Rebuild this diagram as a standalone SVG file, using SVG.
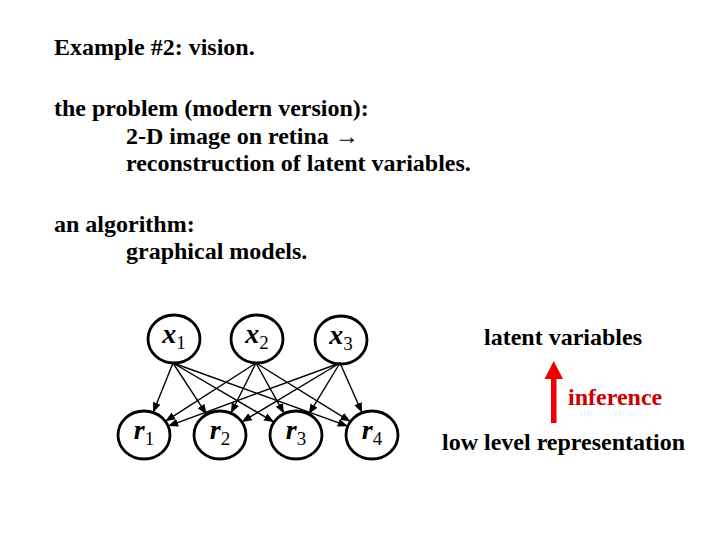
<svg xmlns="http://www.w3.org/2000/svg" width="720" height="540" viewBox="0 0 720 540">
<style>
.t{font-family:"Liberation Serif","Times New Roman",serif;font-weight:bold;font-size:24px;fill:#000}
.red{fill:#cc0000}
.node{fill:none;stroke:#000;stroke-width:2.8}
.lbl{font-family:"Liberation Serif","Times New Roman",serif;font-size:28px;fill:#000;text-anchor:middle}
.v{font-style:italic;font-weight:bold}
.sub{font-size:19px}
.edge{stroke:#000;stroke-width:1.4;fill:none;marker-end:url(#ah)}
</style>
<defs>
<marker id="ah" markerUnits="userSpaceOnUse" markerWidth="11" markerHeight="9" refX="10" refY="4.5" orient="auto">
<path d="M0,0.5 L10,4.5 L0,8.5 z" fill="#000"/>
</marker>
</defs>
<rect width="720" height="540" fill="#fff"/>
<g id="text">
<text class="t" x="54" y="55">Example #2: vision.</text>
<text class="t" x="54" y="116">the problem (modern version):</text>
<text class="t" x="126" y="144">2-D image on retina →</text>
<text class="t" x="126" y="171">reconstruction of latent variables.</text>
<text class="t" x="54" y="232">an algorithm:</text>
<text class="t" x="126" y="259">graphical models.</text>
<text class="t" x="484" y="345">latent variables</text>
<text class="t red" x="568" y="405">inference</text>
<text class="t" x="442" y="450">low level representation</text>
</g>
<g id="inference-arrow">
<rect x="551" y="378" width="5.5" height="45" fill="#ee0000"/>
<polygon points="553.7,361 544.5,379 563,379" fill="#ee0000"/>
</g>
<g id="connectors">
<line class="edge" x1="173" y1="363" x2="153.1" y2="412.5"/>
<line class="edge" x1="173" y1="363" x2="206.6" y2="414.4"/>
<line class="edge" x1="173" y1="363" x2="274.0" y2="422.1"/>
<line class="edge" x1="173" y1="363" x2="347.8" y2="426.2"/>
<line class="edge" x1="256" y1="363" x2="165.3" y2="421.3"/>
<line class="edge" x1="256" y1="363" x2="230.9" y2="413.2"/>
<line class="edge" x1="256" y1="363" x2="284.1" y2="413.6"/>
<line class="edge" x1="256" y1="363" x2="350.4" y2="421.6"/>
<line class="edge" x1="340" y1="363" x2="168.2" y2="426.1"/>
<line class="edge" x1="340" y1="363" x2="241.8" y2="421.9"/>
<line class="edge" x1="340" y1="363" x2="308.8" y2="414.1"/>
<line class="edge" x1="340" y1="363" x2="362.1" y2="412.8"/>
</g>
<g id="x1"><ellipse class="node" cx="174" cy="339" rx="26" ry="24"/><text class="lbl" x="174" y="343"><tspan class="v">x</tspan><tspan class="sub" dy="6">1</tspan></text></g>
<g id="x2"><ellipse class="node" cx="257" cy="339" rx="26" ry="24"/><text class="lbl" x="257" y="343"><tspan class="v">x</tspan><tspan class="sub" dy="6">2</tspan></text></g>
<g id="x3"><ellipse class="node" cx="341" cy="340" rx="26" ry="24"/><text class="lbl" x="341" y="344"><tspan class="v">x</tspan><tspan class="sub" dy="6">3</tspan></text></g>
<g id="r1"><ellipse class="node" cx="144" cy="435" rx="26" ry="24"/><text class="lbl" x="144" y="439"><tspan class="v">r</tspan><tspan class="sub" dy="6">1</tspan></text></g>
<g id="r2"><ellipse class="node" cx="220" cy="435" rx="26" ry="24"/><text class="lbl" x="220" y="439"><tspan class="v">r</tspan><tspan class="sub" dy="6">2</tspan></text></g>
<g id="r3"><ellipse class="node" cx="296" cy="435" rx="26" ry="24"/><text class="lbl" x="296" y="439"><tspan class="v">r</tspan><tspan class="sub" dy="6">3</tspan></text></g>
<g id="r4"><ellipse class="node" cx="372" cy="435" rx="26" ry="24"/><text class="lbl" x="372" y="439"><tspan class="v">r</tspan><tspan class="sub" dy="6">4</tspan></text></g>
</svg>
